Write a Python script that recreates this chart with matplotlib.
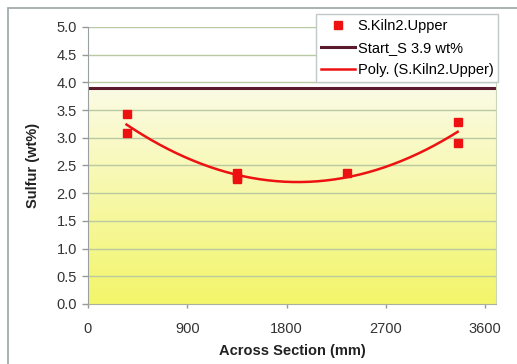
import matplotlib
matplotlib.use("Agg")
import matplotlib.pyplot as plt
import numpy as np
from matplotlib.colors import LinearSegmentedColormap
from matplotlib.patches import Rectangle

x_pos = [350, 350, 1350, 1350, 1350, 2350, 3350, 3350]
sulfur = [3.42, 3.08, 2.37, 2.30, 2.25, 2.36, 3.29, 2.90]
start_s = 3.9
x_ticks = [0, 900, 1800, 2700, 3600]
y_ticks = [0.0, 0.5, 1.0, 1.5, 2.0, 2.5, 3.0, 3.5, 4.0, 4.5, 5.0]

plt.rcParams['font.family'] = ['Liberation Sans', 'DejaVu Sans']

fig = plt.figure(figsize=(5.17, 3.64), dpi=100)
fig.patch.set_facecolor('white')
ax = fig.add_axes([0.170, 0.165, 0.790, 0.761])

# outer chart frame
fig.patches.append(Rectangle((8 / 517, -0.05), 1.2, 1 - 8 / 364 + 0.05,
                             transform=fig.transFigure, fill=False,
                             edgecolor='#9aa5a5', linewidth=1.2))

# background gradient below start line
cmap = LinearSegmentedColormap.from_list('bg', ['#fbfbe6', '#f3f56a'])
grad = np.linspace(0, 1, 256).reshape(-1, 1)
ax.imshow(grad, cmap=cmap, aspect='auto', extent=[0, 3700, 0, start_s],
          origin='upper', zorder=0)

for yv in y_ticks[1:]:
    ax.axhline(yv, color='#b9c9a0', linewidth=1, zorder=1)

ax.axhline(start_s, color='#5b1a2c', linewidth=2.2, zorder=2,
           label='Start_S 3.9 wt%')

ax.plot(x_pos, sulfur, 's', color='#ee1111', markersize=6, zorder=4,
        label='S.Kiln2.Upper', linestyle='none')

coef = np.polyfit(x_pos, sulfur, 2)
xf = np.linspace(min(x_pos), max(x_pos), 200)
ax.plot(xf, np.polyval(coef, xf), color='#ee1111', linewidth=1.8, zorder=3,
        label='Poly. (S.Kiln2.Upper)')

ax.set_xlim(0, 3700)
ax.set_ylim(0, 5.0)
ax.set_xticks(x_ticks)
ax.set_yticks(y_ticks)
ax.set_yticklabels([f'{v:.1f}' for v in y_ticks])
ax.tick_params(axis='both', labelsize=10.5, colors='#999999',
               labelcolor='#333333', direction='out', width=1)
ax.tick_params(axis='x', length=3, pad=10)
ax.tick_params(axis='y', length=4, pad=4)

ax.spines['top'].set_visible(False)
ax.spines['left'].set_color('#9aa0a0')
ax.spines['bottom'].set_color('#a8b0a0')
ax.spines['right'].set_color('#c8d8b8')

ax.set_xlabel('Across Section (mm)', fontsize=10.5, fontweight='bold',
              color='#222222', labelpad=6)
ax.set_ylabel('Sulfur (wt%)', fontsize=10.5, fontweight='bold',
              color='#222222', labelpad=12)

handles, labels = ax.get_legend_handles_labels()
order = [1, 0, 2]
leg = fig.legend([handles[i] for i in order], [labels[i] for i in order],
                 loc='upper left', bbox_to_anchor=(316 / 517, 1 - 14 / 364),
                 fontsize=10.5, frameon=True, fancybox=False, handlelength=2.3,
                 borderpad=0.35, labelspacing=0.55, handletextpad=0.2,
                 borderaxespad=0)
leg.get_frame().set_edgecolor('#c0c8c8')
leg.get_frame().set_linewidth(1)
leg.get_frame().set_alpha(1)

fig.savefig('out.png', dpi=100, facecolor='white')
